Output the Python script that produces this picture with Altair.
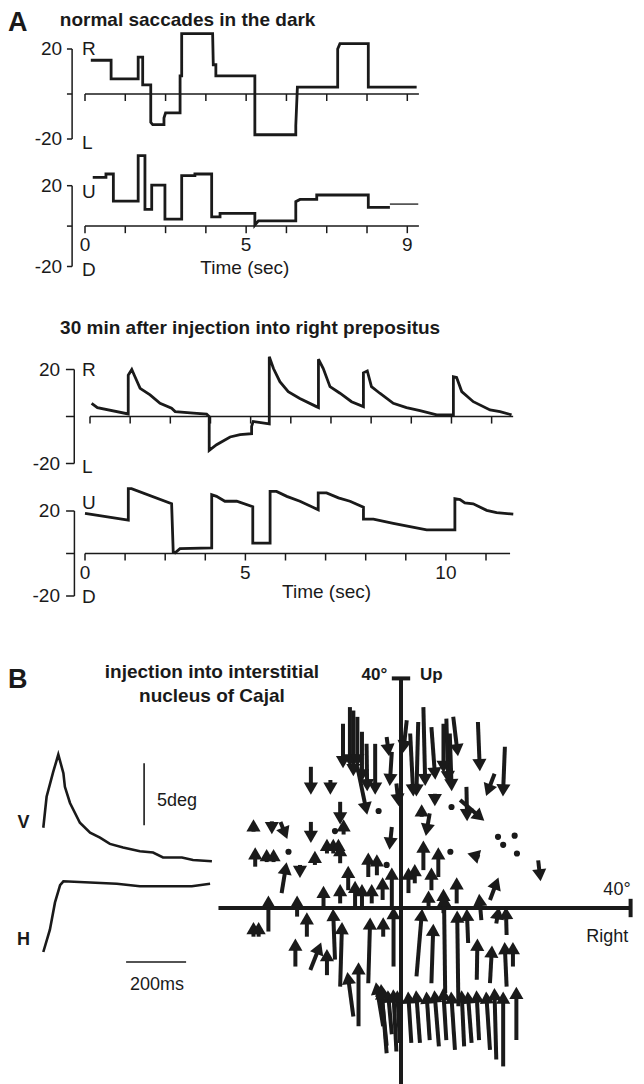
import altair as alt
import pandas as pd
import numpy as np

# ---------------- data ----------------
# Panel A, normal saccades: horizontal (R/L) and vertical (U/D) position, deg vs time, s
a1h_t = [0.18, 0.81, 0.81, 1.65, 1.65, 1.79, 1.79, 2.04, 2.04, 2.10, 2.45, 2.45, 2.50, 2.95, 2.95, 3.00,
         3.00, 3.96, 3.98, 4.06, 4.06, 5.27, 5.27, 6.54, 6.54, 6.59, 7.84, 7.84, 7.91, 8.79, 8.79, 10.29]
a1h_v = [15.0, 15.0, 6.7, 6.7, 16.4, 16.4, 4.1, 4.1, -12.6, -13.6, -13.6, -10.7, -8.4, -8.4, 8.1, 8.1,
         26.8, 26.8, 13.0, 13.0, 8.1, 8.1, -18.1, -18.1, -14.1, 3.1, 3.1, 20.0, 22.4, 22.4, 3.1, 3.1]
a1v_t = [0.24, 0.65, 0.65, 0.88, 0.88, 1.65, 1.65, 1.86, 1.86, 2.07, 2.07, 2.48, 2.48, 3.00, 3.00, 3.41,
         3.41, 3.93, 3.93, 4.19, 4.19, 5.27, 5.27, 5.38, 6.54, 6.54, 6.67, 7.19, 7.19, 8.79, 8.79, 9.46]
a1v_v = [24.1, 24.1, 25.8, 25.8, 12.4, 12.4, 34.9, 34.9, 8.3, 8.3, 20.3, 20.3, 3.5, 3.5, 25.0, 25.0,
         25.8, 25.8, 4.6, 4.6, 6.3, 6.3, 0.5, 2.6, 2.6, 12.1, 13.2, 13.2, 15.4, 15.4, 9.3, 9.3]
a1v_tail_t = [9.46, 10.34]
a1v_tail_v = [10.9, 10.9]

# Panel A, 30 min after injection into right prepositus
a2h_t = [0.05, 0.23, 1.19, 1.19, 1.30, 1.40, 1.56, 1.87, 2.18, 2.54, 2.65, 3.22, 3.63, 3.71, 3.71, 3.94,
         4.36, 4.67, 5.03, 5.03, 5.08, 5.58, 5.58, 5.71, 5.91, 6.17, 6.53, 7.05, 7.11, 7.11, 7.26, 7.47,
         7.78, 8.14, 8.51, 8.51, 8.63, 8.76, 9.02, 9.44, 9.85, 10.27, 10.79, 11.31, 11.31, 11.41, 11.57,
         11.93, 12.45, 12.76, 13.12]
a2h_v = [5.6, 3.8, 1.1, 17.6, 20.0, 16.9, 12.0, 9.2, 5.6, 3.5, 2.1, 1.4, 1.0, 0.0, -14.4, -12.0,
         -8.7, -7.7, -7.3, -4.2, -2.1, -3.1, 25.4, 20.4, 14.8, 10.6, 7.7, 4.2, 3.8, 24.4, 20.4, 12.7,
         9.9, 6.3, 4.2, 18.6, 19.4, 12.7, 9.9, 5.6, 3.8, 2.5, 0.7, 0.7, 16.9, 16.6, 10.6,
         6.3, 2.8, 2.1, 0.7]
a2v_t = [0.00, 1.35, 1.35, 1.45, 2.70, 2.75, 2.81, 2.96, 3.95, 3.95, 4.10, 4.36, 4.73, 5.23, 5.23, 5.77,
         5.77, 5.97, 6.29, 6.70, 7.27, 7.27, 7.53, 7.90, 8.26, 8.68, 8.68, 8.99, 9.61, 10.13, 10.65, 11.53,
         11.53, 11.69, 11.84, 12.10, 12.52, 12.83, 13.35]
a2v_v = [18.9, 15.7, 30.5, 30.5, 23.4, 0.8, 0.3, 2.3, 2.6, 27.7, 26.9, 24.6, 24.6, 22.0, 4.9, 4.9,
         29.2, 29.2, 26.9, 24.6, 20.6, 28.5, 28.5, 26.2, 24.6, 21.8, 16.2, 16.2, 14.2, 12.6, 11.1, 11.1,
         25.8, 25.4, 23.8, 23.4, 20.3, 19.2, 18.5]

# time-axis ticks and labels
a1_ticks = [0, 1.25, 2.5, 3.75, 5, 6.25, 7.5, 8.75, 10]
a1_lab_pos = [0, 5, 10]
a1_lab_txt = ["0", "5", "9"]
a2_ticks = [0, 1.25, 2.5, 3.75, 5, 6.25, 7.5, 8.75, 10, 11.25, 12.5]
a2_lab_pos = [0, 5, 11.25]
a2_lab_txt = ["0", "5", "10"]

# Panel B, left: example saccade (ms, deg)
bv_ms = [1, 12, 34, 51, 68, 73, 90, 123, 157, 190, 223, 267, 323, 367, 400, 463, 500, 563]
bv_deg = [2.6, 5.1, 7.1, 8.5, 7.0, 5.9, 4.6, 3.0, 2.2, 1.8, 1.3, 1.0, 0.7, 0.6, 0.2, 0.2, 0.0, -0.1]
bh_ms = [1, 23, 40, 57, 68, 157, 246, 323, 412, 496, 557]
bh_deg = [0.0, 1.8, 4.0, 5.4, 5.7, 5.6, 5.5, 5.3, 5.3, 5.3, 5.5]

# Panel B, right: saccade vectors (start -> end, deg; x = right, y = up)
f_x0 = [-8.9, -8.3, -7.6, -10.1, -6.8, -6.0, -4.5, -7.6, -15.7, -12.3, -10.6, -15.7, -22.5, -25.7, -21.0,
        -10.0, -25.4, -23.4, -22.2, -17.6, -15.0, -12.9, -11.8, -10.9, -10.6, -20.8, -5.7, -4.2, -9.2,
        -13.5, -10.6, -8.0, -6.8, -5.1, -3.2, -1.6, -3.1, -25.7, -24.8, -23.1, -18.1, -16.4, -18.4, -15.8,
        -12.9, -11.5, -10.6, -8.3, -7.4, -5.7, -2.5, -3.1,
        3.9, 3.0, 1.6, 5.3, 7.9, 9.1, 7.4, 8.5, 13.4, 18.1, 16.3, 5.9, 11.4, 10.3, -1.6, -0.8, -2.5, 1.0,
        5.0, -1.6, 3.6, 13.7, 23.9,
        3.9, 6.5, 2.4, 5.3, 1.3, 9.7, 7.4, 4.8, 15.5, 14.0, -1.3, 2.7, 5.3, 7.7, 10.0, 11.7, 16.6, 18.4,
        13.2, 15.5, 18.4, 19.5,
        -2.5, -1.6, -0.8, -0.2, 1.8, 3.3, 5.0, 6.6, 7.9, 9.4, 11.0, 12.3, 13.6, 15.5, 16.6, 17.8, 20.1]
f_y0 = [35.0, 34.4, 33.3, 32.1, 30.7, 28.6, 28.6, 24.6, 24.6, 22.3, 18.5, 15.0, 15.1, 13.3, 15.0,
        12.8, 7.2, 8.0, 8.0, 7.5, 7.5, 9.5, 9.5, 9.5, 7.8, 2.6, 5.4, 5.7, 3.1,
        0.2, 0.8, 0.2, 0.2, 0.8, 1.4, 0.2, -5.0, -5.0, -5.0, -4.1, -1.5, -5.0, -10.2, -10.8,
        -11.7, -9.0, -13.7, -18.9, -20.6, -13.1, -25.3, -20.6,
        35.0, 32.4, 30.4, 31.5, 33.0, 33.3, 32.1, 30.4, 32.4, 28.1, 23.4, 19.9, 21.1, 18.8, 27.2, 21.7,
        29.8, 32.7, 16.5, 14.1, 15.9, 8.9, 8.3,
        6.6, 5.4, 4.3, 3.1, 2.6, 0.8, -0.9, 0.2, 1.4, -2.1, -10.2, -11.9, -13.1, -14.8, -17.1, -6.1,
        -2.7, -4.7, -12.5, -13.1, -13.7, -10.2,
        -24.0, -22.0, -25.0, -23.5, -23.5, -23.5, -23.0, -24.1, -23.0, -24.7, -24.1, -23.5, -23.0, -24.7,
        -26.4, -27.6, -23.0]
f_x1 = [-8.9, -8.3, -7.6, -10.1, -6.8, -5.9, -4.5, -6.1, -15.7, -12.3, -10.6, -15.7, -22.5, -25.7, -20.2,
        -10.0, -25.4, -23.4, -22.2, -17.6, -15.0, -12.9, -11.8, -10.9, -10.6, -20.1, -5.7, -4.2, -9.2,
        -13.5, -10.6, -8.0, -6.8, -5.1, -3.2, -1.6, -3.1, -25.7, -24.8, -23.1, -18.1, -16.4, -18.4, -14.3,
        -12.9, -11.8, -10.3, -9.2, -7.4, -5.4, -3.4, -4.2,
        4.2, 2.7, 2.1, 5.9, 8.2, 9.8, 7.4, 8.8, 13.7, 17.8, 15.2, 5.9, 11.5, 13.7, -1.9, -0.5, -2.2, 0.5,
        4.5, -1.9, 3.6, 12.6, 24.2,
        3.9, 6.5, 2.4, 5.3, 1.3, 9.7, 7.4, 4.8, 16.6, 13.7, -1.3, 3.6, 5.6, 7.5, 9.8, 11.5, 16.9, 18.3,
        13.3, 15.8, 18.1, 19.5,
        -3.4, -2.2, -1.3, -0.6, 1.3, 2.7, 4.5, 5.9, 7.4, 8.8, 10.6, 11.7, 13.2, 14.9, 16.3, 17.8, 20.1]
f_y1 = [25.7, 24.0, 25.7, 25.4, 23.1, 21.4, 20.8, 17.3, 20.8, 20.8, 15.6, 12.4, 13.9, 14.4, 13.0,
        14.4, 9.5, 9.2, 9.2, 6.3, 8.9, 11.0, 11.0, 11.0, 10.1, 6.9, 8.6, 8.3, 6.3,
        2.8, 3.1, 3.7, 3.1, 3.1, 4.3, 6.0, -2.7, -3.5, -3.5, 1.1, 1.1, -1.8, -6.4, -7.0,
        -8.2, -1.2, -3.5, -12.2, -10.5, -2.7, -14.3, -14.0,
        22.3, 20.5, 20.5, 23.4, 22.8, 27.5, 24.6, 21.4, 24.9, 20.5, 20.5, 18.8, 16.2, 15.9, 22.3, 18.8,
        27.5, 28.1, 13.6, 11.2, 17.0, 9.2, 5.7,
        10.7, 9.5, 6.6, 6.0, 6.0, 4.3, 2.3, 2.0, 4.3, 1.4, -0.9, -1.2, -3.8, 1.4, -1.5, -1.2,
        -0.9, -0.9, -6.4, -7.6, -7.0, -7.0,
        -14.8, -15.4, -15.2, -15.4, -15.6, -15.4, -15.6, -15.4, -15.0, -15.6, -15.4, -15.6, -15.4, -15.6,
        -15.0, -15.6, -14.8]
dot_x = [-11.5, -19.6, -2.5, 8.8, 16.9, 19.8, 17.8, 20.2, 8.6, -3.9]
dot_y = [13.4, 9.8, 7.5, 17.6, 12.4, 12.6, 11.0, 9.5, 9.8, 16.9]

# ---------------- layout helpers ----------------
OFF = 8
W, H = 628, 1076
INK = "#1a1a1a"
FONT = "Liberation Sans"


def S(domain, rng):
    return alt.Scale(domain=domain, range=[rng[0] - OFF, rng[1] - OFF], nice=False, zero=False)


def line(xv, yv, xs, ys, w=2.8):
    df = pd.DataFrame({"x": xv, "y": yv, "i": list(range(len(xv)))})
    return alt.Chart(df).mark_line(color=INK, strokeWidth=w, strokeJoin="miter", strokeCap="butt").encode(
        x=alt.X("x:Q", scale=xs, axis=None), y=alt.Y("y:Q", scale=ys, axis=None), order=alt.Order("i:Q"))


def segs(x0, y0, x1, y1, xs, ys, w=1.5):
    df = pd.DataFrame({"x": x0, "y": y0, "x2": x1, "y2": y1})
    return alt.Chart(df).mark_rule(color=INK, strokeWidth=w, strokeCap="butt").encode(
        x=alt.X("x:Q", scale=xs, axis=None), y=alt.Y("y:Q", scale=ys, axis=None),
        x2="x2:Q", y2="y2:Q")


def texts(xv, yv, tv, xs, ys, size=19, bold=False, align="center", baseline="middle"):
    df = pd.DataFrame({"x": xv, "y": yv, "t": tv})
    return alt.Chart(df).mark_text(font=FONT, fontSize=size, fontWeight="bold" if bold else "normal",
                                   align=align, baseline=baseline, color=INK).encode(
        x=alt.X("x:Q", scale=xs, axis=None), y=alt.Y("y:Q", scale=ys, axis=None), text="t:N")


def trace_axes(xs, ys, br_x, tk_x, zero_end, ticks, tick_len, num_x, let_x, top_let, bot_let,
               top_let_y, bot_let_y):
    out = []
    out.append(segs([br_x, tk_x, tk_x, tk_x], [-20, -20, 0, 20], [br_x, br_x, br_x, br_x], [20, -20, 0, 20], xs, ys))
    out.append(segs([0] + ticks, [0] + [0] * len(ticks), [zero_end] + ticks,
                    [0] + [-tick_len] * len(ticks), xs, ys))
    out.append(texts([num_x, num_x], [20, -20], ["20", "-20"], xs, ys, align="right"))
    out.append(texts([let_x, let_x], [top_let_y, bot_let_y], [top_let, bot_let], xs, ys, align="left"))
    return out


layers = []

# ---- Panel A: normal saccades ----
A1X = S([0, 10], [85, 407.3])
A1HY = S([-20, 20], [139, 49])
A1VY = S([-20, 20], [266.5, 185.7])
layers += trace_axes(A1X, A1HY, -0.40, -0.56, 10.36, a1_ticks, 3.1, -0.71, -0.09, "R", "L", 20, -21.8)
layers += trace_axes(A1X, A1VY, -0.40, -0.56, 10.36, a1_ticks, 3.5, -0.71, -0.09, "U", "D", 16.8, -21.8)
layers.append(line(a1h_t, a1h_v, A1X, A1HY))
layers.append(line(a1v_t, a1v_v, A1X, A1VY))
layers.append(line(a1v_tail_t, a1v_tail_v, A1X, A1VY, w=1.3))
layers.append(texts(a1_lab_pos, [-9.4] * 3, a1_lab_txt, A1X, A1VY))
layers.append(texts([4.96], [-20.8], ["Time (sec)"], A1X, A1VY))
layers.append(texts([-2.39], [31.4], ["A"], A1X, A1HY, size=27, bold=True, align="left"))
layers.append(texts([-0.78], [33.0], ["normal saccades in the dark"], A1X, A1HY, size=19, bold=True, align="left"))

# ---- Panel A: after injection ----
A2HX = S([0, 10], [90, 411.3])
A2HY = S([-20, 20], [463.5, 369.5])
A2VX = S([0, 10], [85, 405.8])
A2VY = S([-20, 20], [596, 511])
layers += trace_axes(A2HX, A2HY, -0.49, -0.75, 13.17, a2_ticks, 3.0, -0.93, -0.25, "R", "L", 20, -21.5)
layers += trace_axes(A2VX, A2VY, -0.33, -0.59, 13.25, a2_ticks, 3.3, -0.78, -0.09, "U", "D", 23.8, -20.5)
layers.append(line(a2h_t, a2h_v, A2HX, A2HY))
layers.append(line(a2v_t, a2v_v, A2VX, A2VY))
layers.append(texts(a2_lab_pos, [-9.3] * 3, a2_lab_txt, A2VX, A2VY))
layers.append(texts([7.53], [-18.0], ["Time (sec)"], A2VX, A2VY))
layers.append(texts([-0.93], [37.7], ["30 min after injection into right prepositus"], A2HX, A2HY,
                    size=19, bold=True, align="left"))

# ---- Panel B, left ----
BX = S([0, 600], [43, 223])
BVY = S([0, 10], [860, 736])
BHY = S([0, 10], [952, 828])
layers.append(line(bv_ms, bv_deg, BX, BVY, w=2.6))
layers.append(line(bh_ms, bh_deg, BX, BHY, w=2.6))
layers.append(segs([337], [2.8], [337], [7.8], BX, BVY, w=1.6))
layers.append(texts([380], [4.76], ["5deg"], BX, BVY, size=18, align="left"))
layers.append(segs([277], [-0.81], [477], [-0.81], BX, BHY, w=1.6))
layers.append(texts([380], [-2.66], ["200ms"], BX, BHY, size=18))
layers.append(texts([-65], [2.98], ["V"], BX, BVY, size=18, bold=True))
layers.append(texts([-65], [0.97], ["H"], BX, BHY, size=18, bold=True))
layers.append(texts([-117], [14.5], ["B"], BX, BVY, size=27, bold=True, align="left"))
layers.append(texts([563, 563], [15.2, 13.25], ["injection into interstitial", "nucleus of Cajal"], BX, BVY,
                    size=19, bold=True))

# ---- Panel B, right: vector field ----
FX = S([-40, 40], [171.4, 630.6])
FY = S([-40, 40], [1137.6, 678.4])
layers.append(segs([-31.8, 0, -1.6, 40], [0, -40, 40, -1.6], [40, 0, 1.6, 40], [0, 40, 40, 1.6], FX, FY, w=4))
layers.append(segs(f_x0, f_y0, f_x1, f_y1, FX, FY, w=4))
fdx = np.array(f_x1) - np.array(f_x0)
fdy = np.array(f_y1) - np.array(f_y0)
heads = pd.DataFrame({"x": f_x1, "y": f_y1, "a": (np.degrees(np.arctan2(fdx, fdy)) + 360) % 360})
layers.append(alt.Chart(heads).mark_point(shape="triangle-up", filled=True, size=200, color=INK, opacity=1).encode(
    x=alt.X("x:Q", scale=FX, axis=None), y=alt.Y("y:Q", scale=FY, axis=None),
    angle=alt.Angle("a:Q", scale=None)))
dots = pd.DataFrame({"x": dot_x, "y": dot_y})
layers.append(alt.Chart(dots).mark_circle(size=38, color=INK, opacity=1).encode(
    x=alt.X("x:Q", scale=FX, axis=None), y=alt.Y("y:Q", scale=FY, axis=None)))
layers.append(texts([-2.4], [40.6], ["40°"], FX, FY, size=17, bold=True, align="right"))
layers.append(texts([3.3], [40.6], ["Up"], FX, FY, size=17, bold=True, align="left"))
layers.append(texts([40], [3.1], ["40°"], FX, FY, size=18, align="right"))
layers.append(texts([39.6], [-5.05], ["Right"], FX, FY, size=18, align="right"))

chart = alt.layer(*layers).resolve_scale(x="independent", y="independent").properties(
    width=W, height=H, padding=0, autosize="none"
).configure_view(stroke=None)

chart.save("out.html", embed_options={"renderer": "svg", "actions": False})
